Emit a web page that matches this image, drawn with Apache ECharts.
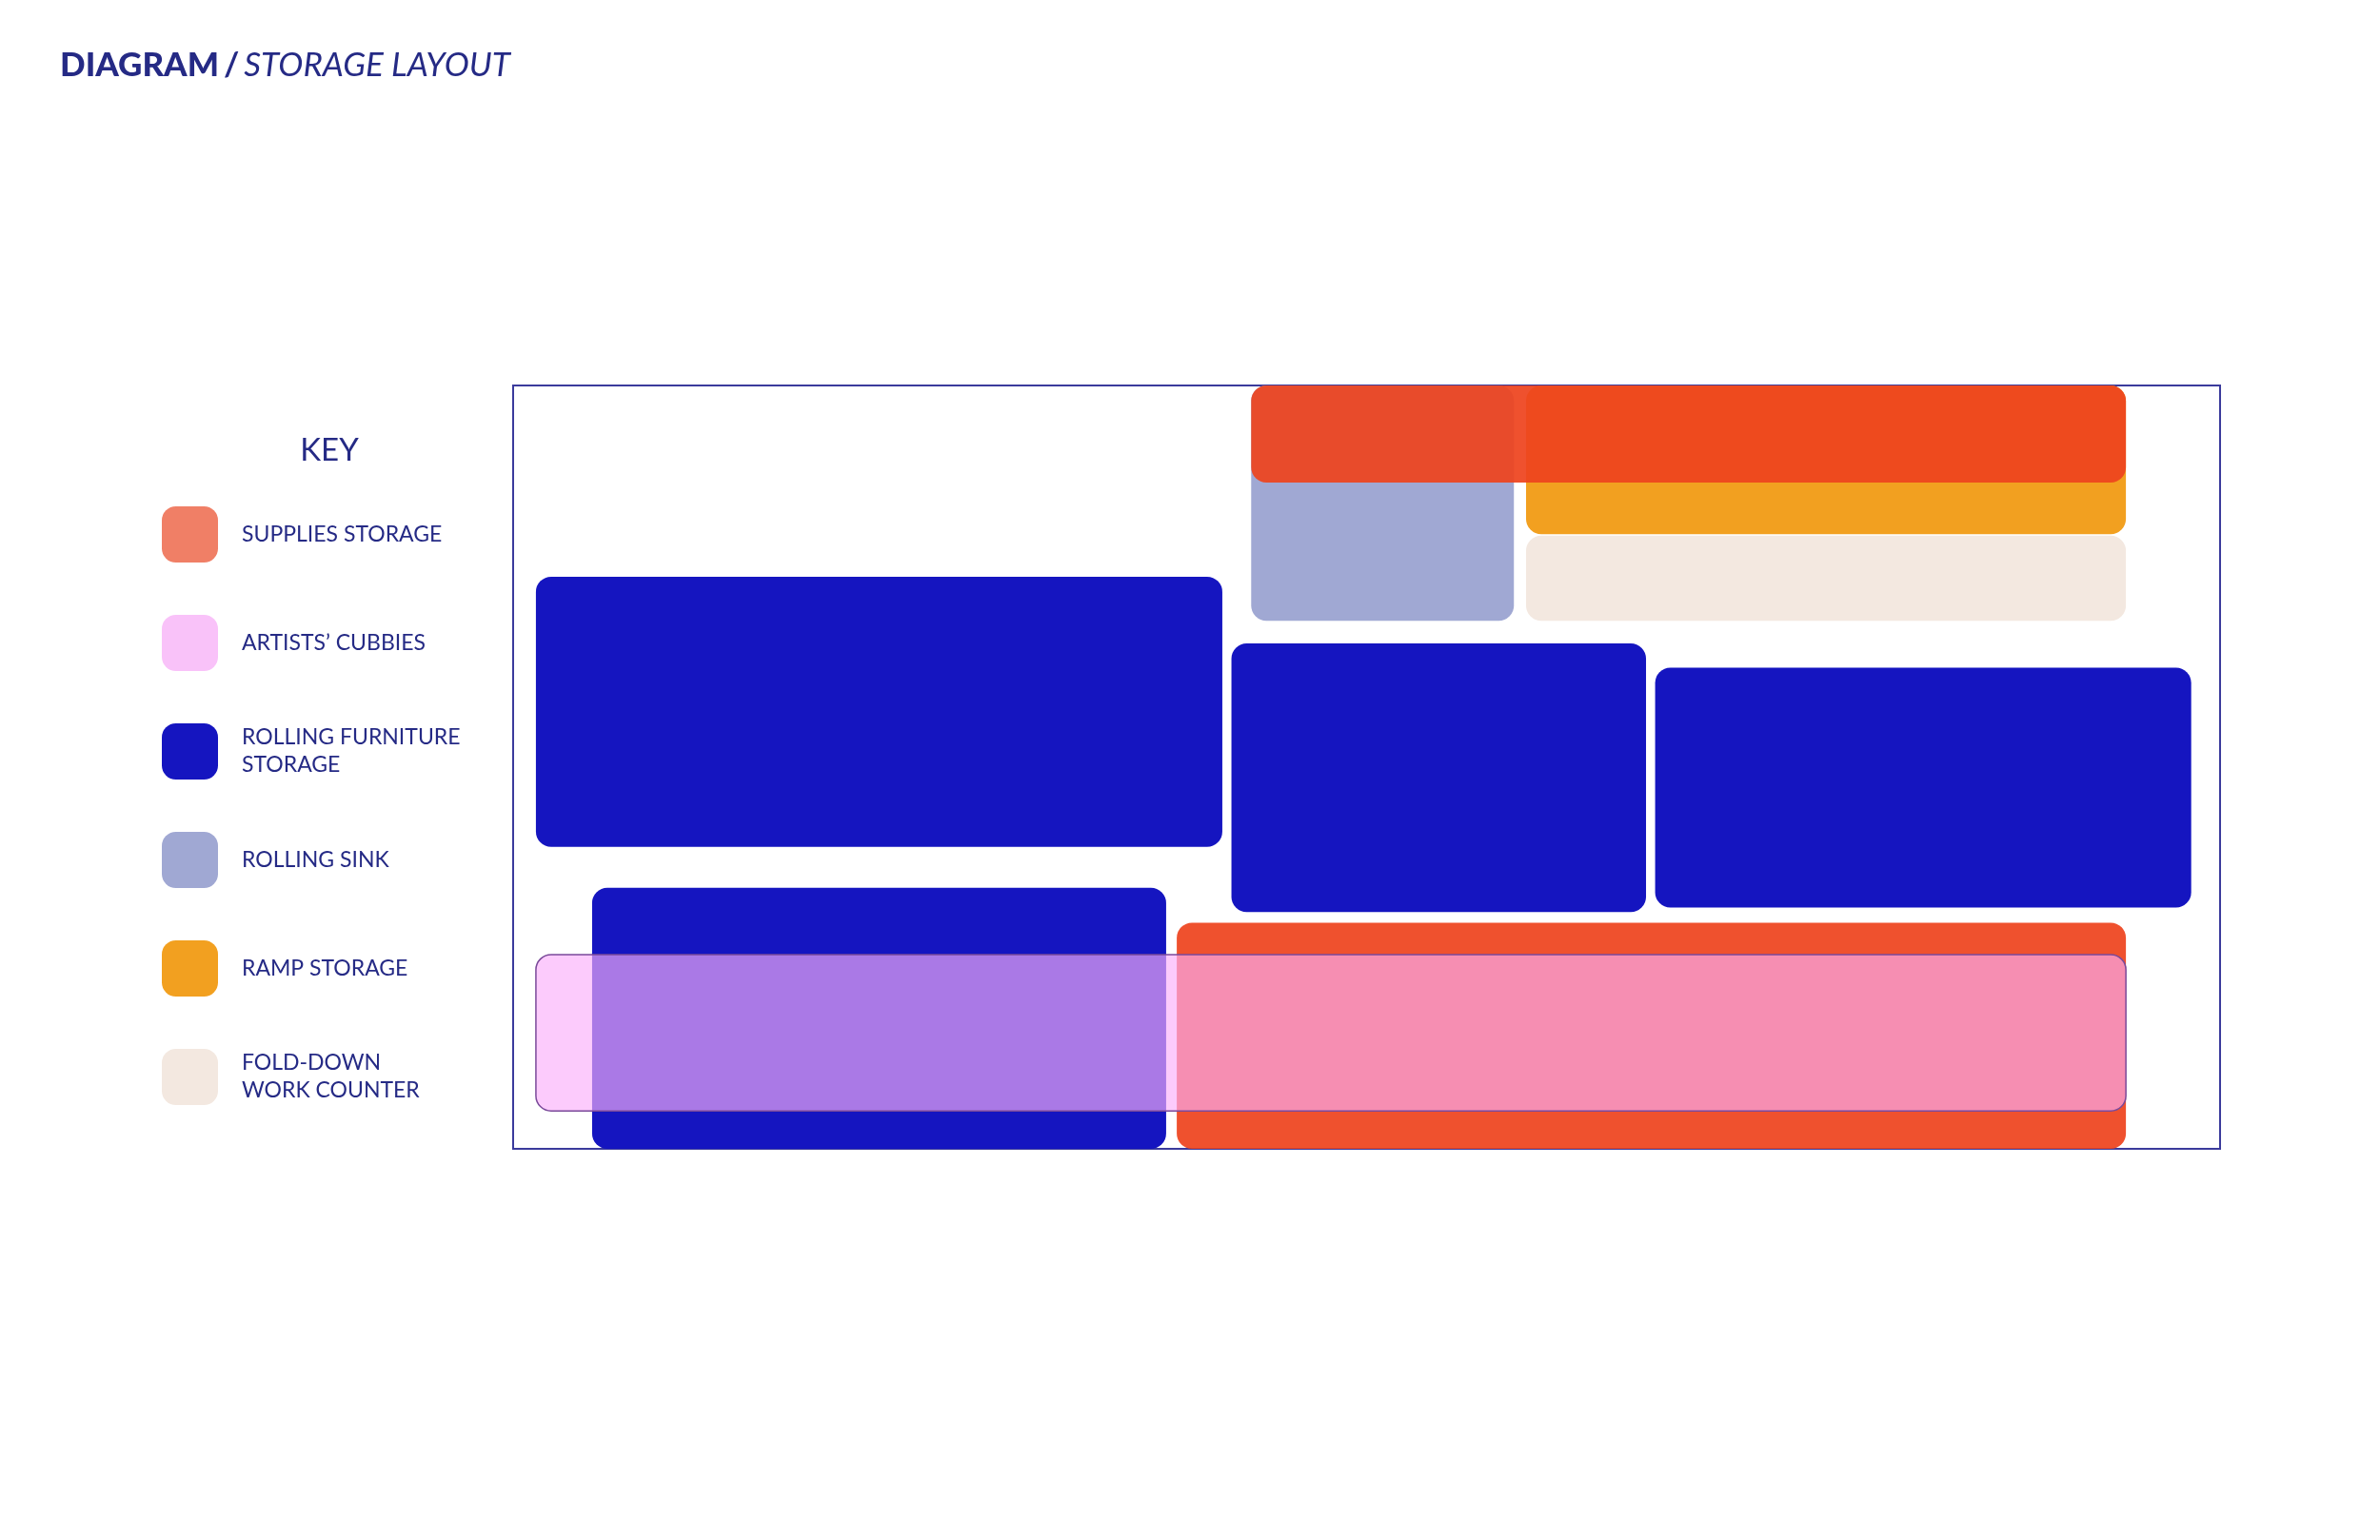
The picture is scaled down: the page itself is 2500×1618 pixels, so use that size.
<!DOCTYPE html>
<html>
<head>
<meta charset="utf-8">
<style>html,body{margin:0;padding:0;background:#fff}#main{width:2500px;height:1618px}</style>
<script src="https://cdn.jsdelivr.net/npm/echarts@6/dist/echarts.min.js"></script>
</head>
<body>
<div id="main"></div>
<script>
// floor plan units (frame is 1124 x 503)
var categories = ['SUPPLIES STORAGE', 'ARTISTS\u2019 CUBBIES', 'ROLLING FURNITURE\nSTORAGE', 'ROLLING SINK', 'RAMP STORAGE', 'FOLD-DOWN\nWORK COUNTER'];
var keyColors = ['#f07f66', '#f9c2f9', '#1515c0', '#a0a8d3', '#f2a020', '#f3e8e0'];
var fillColors = ['rgba(238,68,30,0.93)', 'rgba(250,175,250,0.65)', '#1515c0', '#a0a8d3', '#f2a020', '#f3e8e0'];

// [x0, y0, x1, y1]
var sinkRects = [[486, 0, 659, 155]];
var rampRects = [[667, 0, 1062, 98]];
var counterRects = [[667, 99, 1062, 155]];
var furnitureRects = [[15, 126, 467, 304], [473, 170, 746, 347], [752, 186, 1105, 344], [52, 331, 430, 503]];
var suppliesRects = [[486, 0, 1062, 64], [437, 354, 1062, 503]];
var cubbyRects = [[15, 375, 1062, 478]];

var planW = 1124, planH = 503;

var chart = echarts.init(document.getElementById('main'));

function rectRenderer(color, stroke) {
  return function (params, api) {
    var p0 = api.coord([api.value(0), api.value(1)]);
    var p1 = api.coord([api.value(2), api.value(3)]);
    return {
      type: 'rect',
      shape: { x: p0[0], y: p0[1], width: p1[0] - p0[0], height: p1[1] - p0[1], r: 16 },
      style: { fill: color, stroke: stroke || null, lineWidth: stroke ? 1.5 : 0 }
    };
  };
}

function makeSeries(idx, rects, stroke) {
  return {
    name: categories[idx],
    type: 'custom',
    renderItem: rectRenderer(fillColors[idx], stroke),
    itemStyle: { color: keyColors[idx] },
    encode: { x: [0, 2], y: [1, 3] },
    data: rects,
    silent: true
  };
}

var option = {
  animation: false,
  title: [{
    text: '{b|DIAGRAM} {s|/} {i|STORAGE LAYOUT}',
    left: 58, top: 46,
    textStyle: {
      rich: {
        b: { fontFamily: 'Lato', fontWeight: 900, fontSize: 35, color: '#252a85' },
        s: { fontFamily: 'Lato', fontWeight: 'bold', fontSize: 35, color: '#252a85' },
        i: { fontFamily: 'Lato', fontStyle: 'italic', fontWeight: 'normal', fontSize: 35, color: '#252a85' }
      }
    }
  }, {
    text: 'KEY',
    left: 341, top: 468, textAlign: 'center', textVerticalAlign: 'middle',
    textStyle: { fontFamily: 'Lato', fontWeight: 'normal', fontSize: 33, color: '#252a85' }
  }],
  legend: {
    orient: 'vertical',
    left: 165, top: 527,
    itemWidth: 59, itemHeight: 59,
    itemGap: 55,
    icon: 'roundRect',
    selectedMode: false,
    textStyle: { fontFamily: 'Lato', fontSize: 23, color: '#252a85', lineHeight: 29, padding: [0, 0, 0, 20] },
    data: categories.map(function (c, i) {
      return { name: c, itemStyle: { color: keyColors[i] } };
    })
  },
  grid: { left: 539, top: 405, width: 1793, height: 802, show: true, borderColor: '#3b3b9c', borderWidth: 2, backgroundColor: 'transparent' },
  xAxis: { type: 'value', min: 0, max: planW, show: false },
  yAxis: { type: 'value', min: 0, max: planH, inverse: true, show: false },
  series: [
    makeSeries(3, sinkRects),
    makeSeries(4, rampRects),
    makeSeries(5, counterRects),
    makeSeries(2, furnitureRects),
    makeSeries(0, suppliesRects),
    makeSeries(1, cubbyRects, '#7a4a9a')
  ]
};

chart.setOption(option);
</script>
</body>
</html>
